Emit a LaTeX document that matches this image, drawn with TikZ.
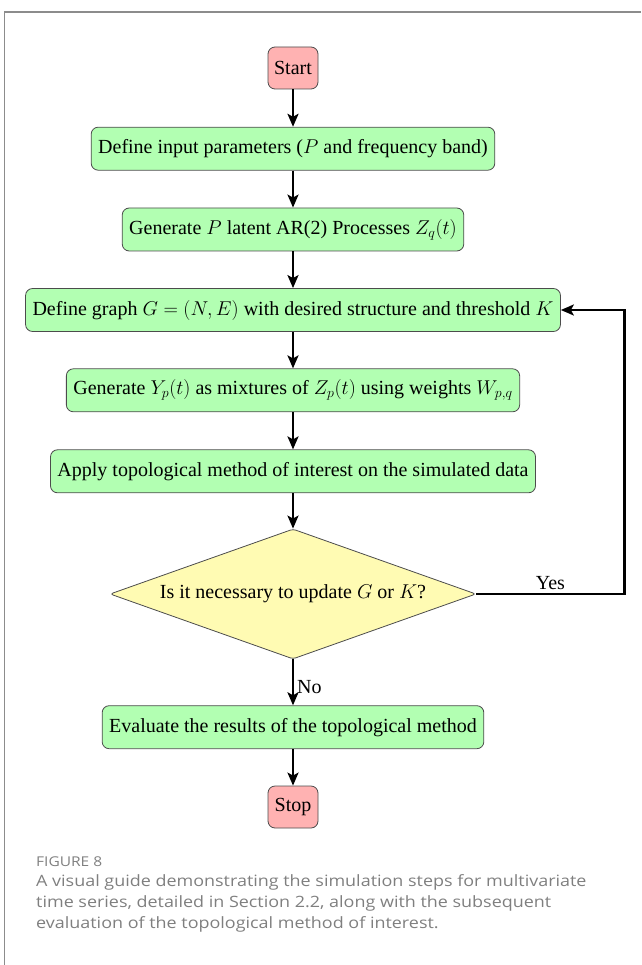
\RequirePackage{fix-cm}
\documentclass[tikz,border=0pt]{standalone}
\usepackage{fontspec}
\setmainfont{Liberation Serif}
\newfontfamily\capfont[FakeStretch=1.15]{Open Sans}
\usetikzlibrary{shapes.geometric,arrows.meta}
\definecolor{framegray}{HTML}{8C8C8C}
\definecolor{capgray}{HTML}{7F7F7F}
\begin{document}
\begin{tikzpicture}[x=1pt,y=-1pt,
  box/.style={draw=black!70, line width=0.8pt, rounded corners=7pt, fill=green!30,
    minimum height=43pt, inner xsep=7pt, font=\fontsize{20}{24}\selectfont},
  term/.style={box, fill=red!30, minimum width=50pt, minimum height=42pt, inner xsep=4pt},
  decision/.style={diamond, draw=black!70, line width=0.8pt, fill=yellow!30, rounded corners=3pt,
    minimum width=366pt, minimum height=130pt, inner sep=0pt, aspect=2.8,
    font=\fontsize{20}{24}\selectfont},
  flow/.style={-{Stealth[length=13pt,width=11pt,inset=3pt]}, line width=2.3pt},
  lbl/.style={font=\fontsize{20}{24}\selectfont, inner sep=3pt}]
\useasboundingbox (0,0) rectangle (641,965);
% frame
\draw[framegray, line width=1.2pt] (4.5,965) -- (4.5,12) -- (641,12);
% nodes
\node[term] (start) at (293,68) {Start};
\node[box] (inp) at (293,148.7) {Define input parameters ($P$ and frequency band)};
\node[box] (gen) at (293,229.5) {Generate $P$ latent AR(2) Processes $Z_q(t)$};
\node[box] (graph) at (293,310) {Define graph $G=(N,E)$ with desired structure and threshold $K$};
\node[box] (mix) at (293,390.3) {Generate $Y_p(t)$ as mixtures of $Z_p(t)$ using weights $W_{p,q}$};
\node[box] (apply) at (293,471.3) {Apply topological method of interest on the simulated data};
\node[decision] (dec) at (293,594) {Is it necessary to update $G$ or $K$?};
\node[box] (eval) at (293,727.2) {Evaluate the results of the topological method};
\node[term] (stop) at (293,807) {Stop};
\coordinate (cr) at (624.5,594);
\coordinate (cg) at (624.5,310);
% connectors
\draw[flow] (start) -- (inp);
\draw[flow] (inp) -- (gen);
\draw[flow] (gen) -- (graph);
\draw[flow] (graph) -- (mix);
\draw[flow] (mix) -- (apply);
\draw[flow] (apply) -- (dec);
\draw[flow] (dec) -- node[lbl, right, pos=0.6] {No} (eval);
\draw[flow] (eval) -- (stop);
\draw[flow] (dec.east) -- node[lbl, above, pos=0.5] {Yes} (cr) -- (cg) -- (graph.east);
% caption
\node[anchor=base west, inner sep=0pt, text=capgray, font=\capfont\fontsize{13.5}{16}\selectfont] (fig) at (36,866) {FIGURE 8};
\node[anchor=base west, inner sep=0pt, text=capgray, font=\capfont\fontsize{15.6}{18}\selectfont] (cap1) at (36,886.7)
  {A visual guide demonstrating the simulation steps for multivariate};
\node[anchor=base west, inner sep=0pt, text=capgray, font=\capfont\fontsize{15.6}{18}\selectfont] (cap2) at (36,907.4)
  {time series, detailed in Section 2.2, along with the subsequent};
\node[anchor=base west, inner sep=0pt, text=capgray, font=\capfont\fontsize{15.6}{18}\selectfont] (cap3) at (36,928.1)
  {evaluation of the topological method of interest.};
\end{tikzpicture}
\end{document}
